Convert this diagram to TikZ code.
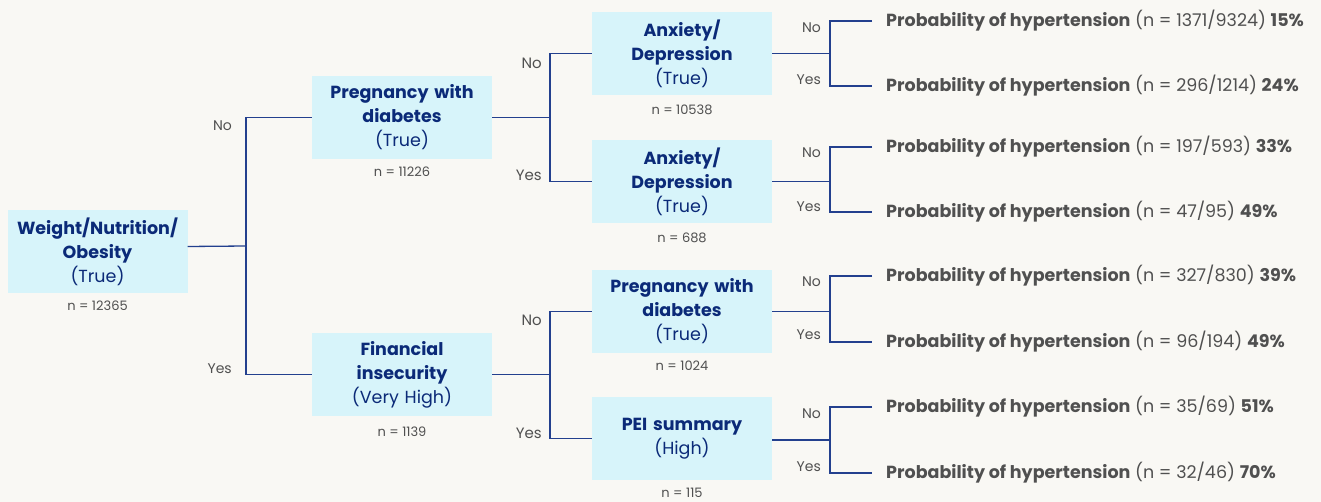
\documentclass[tikz,border=0pt]{standalone}
\usepackage{fontspec}
\setmainfont{Poppins}
\definecolor{bg}{HTML}{F9F8F4}
\definecolor{boxc}{HTML}{D7F4FA}
\definecolor{navy}{HTML}{0B2A78}
\definecolor{linec}{HTML}{23408E}
\definecolor{greyt}{HTML}{505050}
\tikzset{
  box/.style={fill=boxc, minimum width=180pt, minimum height=83pt, text width=178pt, align=center, inner sep=0pt, text=navy, font=\fontsize{17.5}{24}\selectfont},
  nlab/.style={text=greyt, font=\fontsize{13}{15}\selectfont, inner sep=0pt},
  yn/.style={text=greyt, font=\fontsize{14}{16}\selectfont, inner sep=0pt, anchor=east},
  leaf/.style={anchor=west, inner xsep=14pt, inner ysep=0pt, text=greyt, font=\fontsize{17.5}{20}\selectfont},
  conn/.style={draw=linec, line width=1.3pt}
}
\begin{document}
\begin{tikzpicture}[x=1pt,y=-1pt]
\fill[bg] (0,0) rectangle (1321,502);
\useasboundingbox (0,0) rectangle (1321,502);
% boxes
\node[box] (root) at (97.5,251.5) {\textbf{Weight/Nutrition/}\\\textbf{Obesity}\\(True)};
\node[box] (p1) at (402,117.5) {\textbf{Pregnancy with}\\\textbf{diabetes}\\(True)};
\node[box] (f) at (402,374.5) {\textbf{Financial}\\\textbf{insecurity}\\(Very High)};
\node[box] (a1) at (682,53.5) {\textbf{Anxiety/}\\\textbf{Depression}\\(True)};
\node[box] (a2) at (682,181.5) {\textbf{Anxiety/}\\\textbf{Depression}\\(True)};
\node[box] (p2) at (682,311.5) {\textbf{Pregnancy with}\\\textbf{diabetes}\\(True)};
\node[box] (pei) at (682,438.5) {\textbf{PEI summary}\\(High)};
% n labels
\node[nlab] (nroot) at (97.5,306) {n = 12365};
\node[nlab] (np1) at (402,172) {n = 11226};
\node[nlab] (nf) at (402,432) {n = 1139};
\node[nlab] (na1) at (682,110) {n = 10538};
\node[nlab] (na2) at (682,238) {n = 688};
\node[nlab] (np2) at (682,366) {n = 1024};
\node[nlab] (npei) at (682,493) {n = 115};
% junctions
\coordinate (j0) at (246,246);
\coordinate (j1) at (550,117.5);
\coordinate (j2) at (550,374.5);
\coordinate (j3) at (830,53.5);
\coordinate (j4) at (830,181.5);
\coordinate (j5) at (830,311.5);
\coordinate (j6) at (830,440);
% leaves
\node[leaf] (l1) at (872,21) {\textbf{Probability of hypertension} (n = 1371/9324) \textbf{15\%}};
\node[leaf] (l2) at (872,86) {\textbf{Probability of hypertension} (n = 296/1214) \textbf{24\%}};
\node[leaf] (l3) at (872,147) {\textbf{Probability of hypertension} (n = 197/593) \textbf{33\%}};
\node[leaf] (l4) at (872,212) {\textbf{Probability of hypertension} (n = 47/95) \textbf{49\%}};
\node[leaf] (l5) at (872,276) {\textbf{Probability of hypertension} (n = 327/830) \textbf{39\%}};
\node[leaf] (l6) at (872,342) {\textbf{Probability of hypertension} (n = 96/194) \textbf{49\%}};
\node[leaf] (l7) at (872,407) {\textbf{Probability of hypertension} (n = 35/69) \textbf{51\%}};
\node[leaf] (l8) at (872,473) {\textbf{Probability of hypertension} (n = 32/46) \textbf{70\%}};
% connectors
\draw[conn] ([yshift=5pt]root.east) -- (j0);
\draw[conn] (p1.west) -| (j0) |- (f.west);
\draw[conn] (p1.east) -- (j1);
\draw[conn] (a1.west) -| (j1) |- (a2.west);
\draw[conn] (f.east) -- (j2);
\draw[conn] (p2.west) -| (j2) |- (pei.west);
\draw[conn] (a1.east) -- (j3);
\draw[conn] (l1.west) -| (j3) |- (l2.west);
\draw[conn] (a2.east) -- (j4);
\draw[conn] (l3.west) -| (j4) |- (l4.west);
\draw[conn] (p2.east) -- (j5);
\draw[conn] (l5.west) -| (j5) |- (l6.west);
\draw[conn] ([yshift=-1.5pt]pei.east) -- (j6);
\draw[conn] (l7.west) -| (j6) |- (l8.west);
% yes/no labels
\node[yn] (n0) at (232,126) {No};
\node[yn] (y0) at (232,369) {Yes};
\node[yn,font=\fontsize{15}{17}\selectfont] (n1) at (542,63) {No};
\node[yn,font=\fontsize{15}{17}\selectfont] (y1) at (542,175) {Yes};
\node[yn,font=\fontsize{15}{17}\selectfont] (n2) at (542,320) {No};
\node[yn,font=\fontsize{15}{17}\selectfont] (y2) at (542,433) {Yes};
\node[yn] (n3) at (821,28) {No};
\node[yn] (y3) at (821,80) {Yes};
\node[yn] (n4) at (821,153) {No};
\node[yn] (y4) at (821,207) {Yes};
\node[yn] (n5) at (821,282) {No};
\node[yn] (y5) at (821,335) {Yes};
\node[yn] (n6) at (821,414) {No};
\node[yn] (y6) at (821,467) {Yes};
\end{tikzpicture}
\end{document}
